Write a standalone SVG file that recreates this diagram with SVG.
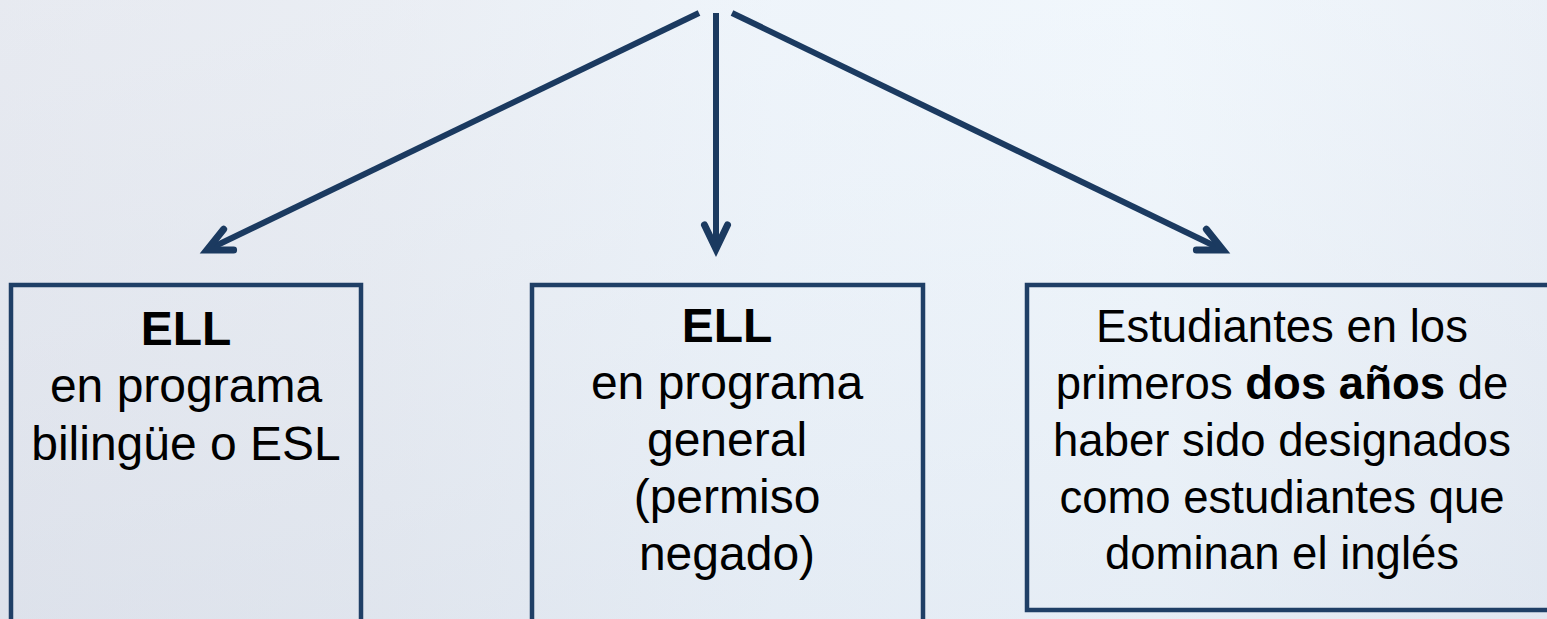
<svg xmlns="http://www.w3.org/2000/svg" width="1547" height="619" viewBox="0 0 1547 619">
  <defs>
    <linearGradient id="bg" x1="0" y1="0" x2="1" y2="0">
      <stop offset="0" stop-color="#dfe3ec"/>
      <stop offset="0.25" stop-color="#e3e8f0"/>
      <stop offset="0.5" stop-color="#e9f1f9"/>
      <stop offset="0.75" stop-color="#ecf4fb"/>
      <stop offset="1" stop-color="#e4ebf4"/>
    </linearGradient>
    <linearGradient id="bgv" x1="0" y1="0" x2="0" y2="1">
      <stop offset="0" stop-color="#ffffff" stop-opacity="0.25"/>
      <stop offset="1" stop-color="#d8dee8" stop-opacity="0.3"/>
    </linearGradient>
    <marker id="head" markerUnits="userSpaceOnUse" markerWidth="44" markerHeight="44" viewBox="-32 -22 44 44" refX="0" refY="0" orient="auto">
      <path d="M -24,-11.5 L 0,0 L -24,11.5" fill="none" stroke="#1b3a60" stroke-width="7" stroke-linecap="round" stroke-linejoin="miter"/>
    </marker>
    <style>
      .conn { stroke: #1b3a60; stroke-width: 6; fill: none; marker-end: url(#head); }
      .box { fill: none; stroke: #1f3f66; stroke-width: 4.5; }
      .t { font-family: "Liberation Sans", Arial, sans-serif; font-size: 48px; fill: #000; text-anchor: middle; }
      .s { font-size: 45.5px; }
      .b { font-weight: bold; }
    </style>
  </defs>
  <rect x="0" y="0" width="1547" height="619" fill="url(#bg)"/>
  <rect x="0" y="0" width="1547" height="619" fill="url(#bgv)"/>

  <g id="connectors">
    <line class="conn" x1="699" y1="13" x2="207" y2="250"/>
    <line class="conn" x1="716" y1="13" x2="716" y2="249"/>
    <line class="conn" x1="732" y1="13" x2="1223" y2="250"/>
  </g>

  <g id="node-ell-bilingue">
    <rect class="box" x="11" y="285" width="350" height="400"/>
    <text class="t b" x="186" y="345">ELL</text>
    <text class="t" x="186" y="402">en programa</text>
    <text class="t" x="186" y="460">bilingüe o ESL</text>
  </g>

  <g id="node-ell-general">
    <rect class="box" x="532" y="285" width="391" height="400"/>
    <text class="t b" x="727" y="342">ELL</text>
    <text class="t" x="727" y="399">en programa</text>
    <text class="t" x="727" y="456">general</text>
    <text class="t" x="727" y="513">(permiso</text>
    <text class="t" x="727" y="570">negado)</text>
  </g>

  <g id="node-estudiantes">
    <rect class="box" x="1027" y="285" width="560" height="325"/>
    <text class="t s" x="1282" y="342">Estudiantes en los</text>
    <text class="t s" x="1282" y="399">primeros <tspan class="b">dos años</tspan> de</text>
    <text class="t s" x="1282" y="456">haber sido designados</text>
    <text class="t s" x="1282" y="513">como estudiantes que</text>
    <text class="t s" x="1282" y="569">dominan el inglés</text>
  </g>
</svg>
